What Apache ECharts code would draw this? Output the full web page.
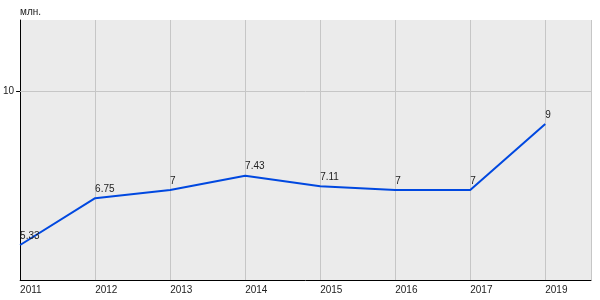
<!DOCTYPE html>
<html><head><meta charset="utf-8">
<script src="https://cdn.jsdelivr.net/npm/echarts@6/dist/echarts.min.js"></script>
<style>html,body{margin:0;padding:0;background:#fff}#c{width:600px;height:300px}</style>
</head><body><div id="c"></div>
<script>
const categories = ['2011','2012','2013','2014','2015','2016','2017','2019'];
const values = [5.33, 6.75, 7, 7.43, 7.11, 7, 7, 9];
const yTicks = [10];
const yUnit = 'млн.';

const chart = echarts.init(document.getElementById('c'), null, {renderer:'canvas'});
const font = '"Liberation Sans Narrow", "Liberation Sans", Arial, sans-serif';
chart.setOption({
  animation:false,
  grid:{left:20, top:20, right:9, bottom:20, show:true, backgroundColor:'#ebebeb', borderWidth:0},
  xAxis:{
    type:'value', min:0, max:7.61, interval:1,
    axisLine:{show:true, onZero:false, lineStyle:{color:'#000', width:1}},
    axisTick:{show:false},
    splitLine:{show:true, lineStyle:{color:'#c6c6c6', width:1}},
    axisLabel:{
      color:'#222', fontSize:10, fontFamily:font, align:'left', margin:5,
      showMaxLabel:false,
      formatter:(v)=> (Number.isInteger(v) && categories[v]!==undefined) ? categories[v] : ''
    }
  },
  yAxis:{
    type:'value', min:4.27, max:12.15,
    name:yUnit, nameLocation:'end', nameGap:3,
    nameTextStyle:{color:'#222', fontSize:10, fontFamily:font, align:'left'},
    axisLine:{show:true, onZero:false, lineStyle:{color:'#000', width:1}},
    axisTick:{show:true, length:4, customValues:yTicks, lineStyle:{color:'#000'}},
    axisLabel:{color:'#222', fontSize:10, fontFamily:font, margin:6, customValues:yTicks, padding:[0,0,5,0]},
    splitLine:{show:false}
  },
  series:[{
    type:'line',
    data: values.map((v,i)=>[i,v]),
    lineStyle:{color:'#0048e0', width:2},
    itemStyle:{color:'#0048e0'},
    symbol:'circle', symbolSize:0.1, showSymbol:true,
    label:{show:true, position:[0,0], align:'left', verticalAlign:'bottom', offset:[0,-4],
      color:'#222', fontSize:10, fontFamily:font,
      formatter:(p)=> String(p.value[1])},
    markLine:{silent:true, symbol:'none', label:{show:false},
      lineStyle:{color:'#c6c6c6', width:1, type:'solid'},
      data: yTicks.map(t=>({yAxis:t}))},
    z:3
  }]
});
</script></body></html>
